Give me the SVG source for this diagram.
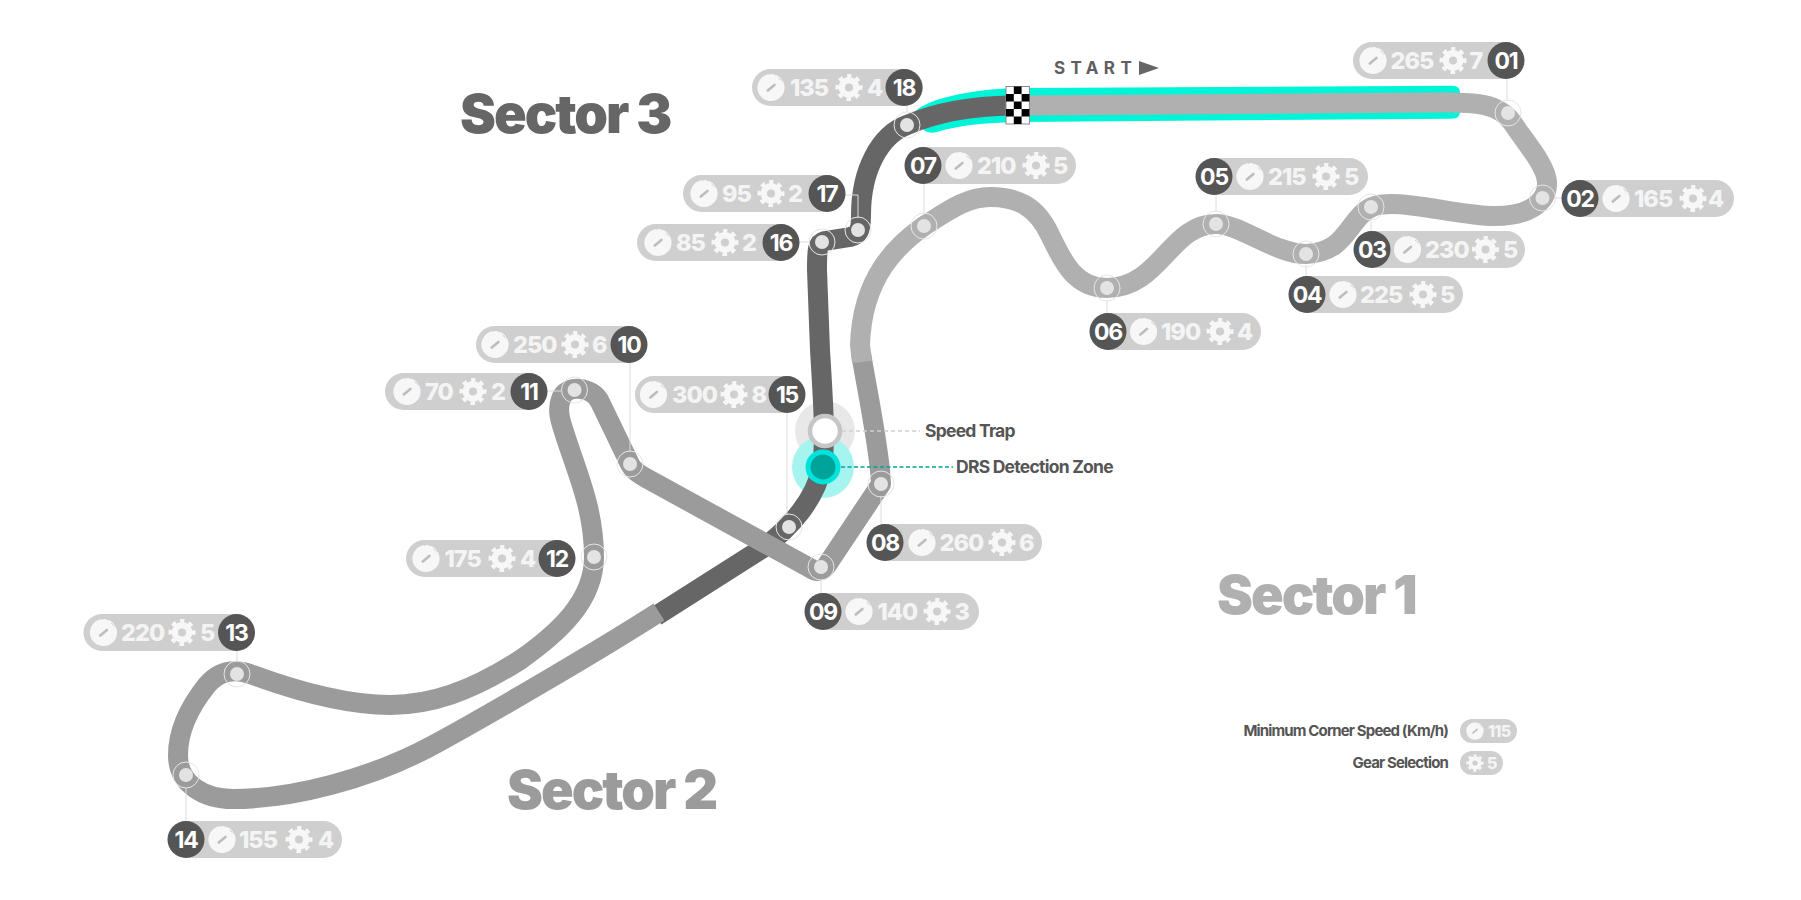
<svg xmlns="http://www.w3.org/2000/svg" width="1801" height="900" viewBox="0 0 1801 900">
<style>
text{font-family:Inter,"Liberation Sans",sans-serif}
.pill{fill:#cfcfcf}
.badge{fill:#555}
.bt{font-size:23px;font-weight:700;fill:#fff;text-anchor:middle;letter-spacing:-1.2px}
.v{font-size:23.5px;font-weight:800;fill:#f4f4f4;letter-spacing:-1px}
.ring{fill:none;stroke:#e6e6e6;stroke-width:1}
.dot{fill:#e3e3e3}
.lead{fill:none;stroke:#dcdcdc;stroke-width:1}
.trk{fill:none;stroke-width:20;stroke-linejoin:round}
.sec{font-size:54px;font-weight:900;letter-spacing:-2px}
.lbl{font-size:17.5px;font-weight:700;fill:#555;letter-spacing:-.75px}
.leg{font-size:15px;font-weight:700;fill:#555;letter-spacing:-.85px;text-anchor:end}
.lv{font-size:16px;font-weight:800;fill:#f4f4f4;letter-spacing:-.7px}
</style>
<defs>
<g id="speed">
<circle r="13.6" fill="#f7f7f7"/>
<path d="M7.5 -9.5L10 -7.4M10.4 -6.4L16 -9.5" stroke="#cfcfcf" stroke-width="1" fill="none"/>
<path d="M3 -15L4 -12M-1.5 -15L-1 -12.5" stroke="#cfcfcf" stroke-width=".8" fill="none"/>
<path d="M-3.2 3L3.4 -2.6" stroke="#bdbdbd" stroke-width="2.6" stroke-linecap="round"/>
</g>
<g id="gear">
<circle r="10.4" fill="#f7f7f7"/>
<circle r="11.5" fill="none" stroke="#f7f7f7" stroke-width="4" stroke-dasharray="4.6 4.43" stroke-dashoffset="2.3" transform="rotate(-90)"/>
<circle r="4" fill="#cfcfcf"/>
</g>
</defs>
<rect width="1801" height="900" fill="#fff"/>

<g id="speed-trap-halo"><circle cx="825" cy="431" r="30" fill="#e8e8e8"/></g>
<g id="drs-halo"><circle cx="823" cy="467" r="31" fill="#a6f4ef"/></g>

<g id="track">
<path fill="#00f5d8" d="M1452 85.7Q1460 86 1460 92L1460 112Q1460 118.7 1452 118.7L1020 122C985 123 960 125 937 132Q930 134 925 131L915 119Q912 113 918 109C935 97 975 89 1020 88Z"/>
<path class="trk" stroke="#666" d="M656 616L763 548C790 528 815 500 822 467C826 440 823 400 820 350L817 270C817 250 817 243 825 241L850 237C858 235 861 232 861 215C861 170 880 135 907 125C935 113 970 106 1012 105.5"/>
<path class="trk" stroke="#9b9b9b" d="M861 353C866 385 875 425 880 470L881 484L827 565Q820 575 810 568L646 478C632 470 631 467 627 458L600 402C592 386 566 384 561 399C556 412 562 425 566 438C578 475 594 510 594 557C594 600 560 632 520 660C470 692 430 705 390 705C340 705 285 687 250 674C235 669 220 670 207 685C195 700 178 725 178 755C178 785 205 799 233 799C290 799 370 780 437 743C490 714 600 650 659 612"/>
<path class="trk" stroke="#b0b0b0" d="M1018 105.5L1440 102.5C1475 102 1498 103 1512 122C1525 142 1546 165 1547 182C1548 205 1525 216 1495 216C1465 216 1420 204 1392 204C1376 204 1368 207 1360 216C1345 232 1340 252 1306 254C1275 254 1240 224 1216 224C1170 224 1160 288 1107 288C1075 288 1063 262 1050 235C1036 205 1016 197 990 197C965 197 945 213 924 226C900 243 862 275 860 345L862 362"/>
</g>

<g id="flag">
<rect x="1006" y="86.5" width="23.4" height="37.5" fill="#fff" stroke="#8a8a8a" stroke-width="1"/>
<path d="M1013.8 86.5h7.8v7.5h-7.8zM1006 94h7.8v7.5h-7.8zM1021.6 94h7.8v7.5h-7.8zM1013.8 101.5h7.8v7.5h-7.8zM1006 109h7.8v7.5h-7.8zM1021.6 109h7.8v7.5h-7.8zM1013.8 116.5h7.8v7.5h-7.8z" fill="#000"/>
</g>

<g id="connectors">
<path class="lead" d="M1507 79V100M1216 195V211M1306 265V276M1371 219V231M1107 300V313M924 183V213M881 496V524M821 580V593M630 362V452M547 391H561M787 412V515M237 651V661M186 788V821M810 242H799M845 195H858V218M907 106V112M1555 198H1562"/>
<path d="M842 431H920" fill="none" stroke="#cfcfcf" stroke-width="1.3" stroke-dasharray="4 3"/>
<path d="M841 467H953" fill="none" stroke="#00a39a" stroke-width="1.3" stroke-dasharray="4 2.5"/>
</g>

<g id="speed-trap"><circle cx="825" cy="431" r="15" fill="#fff" stroke="#c6c6c6" stroke-width="4.5"/></g>
<g id="drs"><circle cx="823" cy="467" r="15" fill="#00a39a" stroke="#00e3dc" stroke-width="5"/></g>
<text x="925" y="437" class="lbl">Speed Trap</text>
<text x="956" y="473" class="lbl">DRS Detection Zone</text>

<g id="start">
<text x="1054" y="74" font-size="17" font-weight="700" fill="#5f5f5f" letter-spacing="5.4">START</text>
<path d="M1139 61L1159 68L1139 75Z" fill="#666"/>
</g>

<text x="460" y="133" class="sec" fill="#666">Sector 3</text>
<text x="507" y="809" class="sec" fill="#9b9b9b">Sector 2</text>
<text x="1217" y="614" class="sec" fill="#b0b0b0">Sector 1</text>

<g id="corner-01"><rect class="pill" x="1353" y="42" width="171" height="37" rx="18.5"/><circle class="badge" cx="1506" cy="60.5" r="18.5"/><text class="bt" x="1506" y="68.5">01</text><use href="#speed" x="1373" y="60.5"/><text class="v" x="1390.5" y="68.5">265</text><use href="#gear" x="1453" y="60.5"/><text class="v" x="1469.5" y="68.5">7</text><circle class="ring" cx="1508" cy="113" r="13"/><circle class="dot" cx="1508" cy="113" r="7"/></g>
<g id="corner-02"><rect class="pill" x="1562" y="180" width="172" height="37" rx="18.5"/><circle class="badge" cx="1580" cy="198.5" r="18.5"/><text class="bt" x="1580" y="206.5">02</text><use href="#speed" x="1616" y="198.5"/><text class="v" x="1634" y="206.5">165</text><use href="#gear" x="1693" y="198.5"/><text class="v" x="1708" y="206.5">4</text><circle class="ring" cx="1542.5" cy="198" r="13"/><circle class="dot" cx="1542.5" cy="198" r="7"/></g>
<g id="corner-03"><rect class="pill" x="1354" y="231" width="171" height="37" rx="18.5"/><circle class="badge" cx="1372" cy="249.5" r="18.5"/><text class="bt" x="1372" y="257.5">03</text><use href="#speed" x="1407.5" y="249.5"/><text class="v" x="1425" y="257.5">230</text><use href="#gear" x="1485.5" y="249.5"/><text class="v" x="1503" y="257.5">5</text><circle class="ring" cx="1371" cy="207" r="13"/><circle class="dot" cx="1371" cy="207" r="7"/></g>
<g id="corner-04"><rect class="pill" x="1289" y="276" width="174" height="37" rx="18.5"/><circle class="badge" cx="1307" cy="294.5" r="18.5"/><text class="bt" x="1307" y="302.5">04</text><use href="#speed" x="1343" y="294.5"/><text class="v" x="1360" y="302.5">225</text><use href="#gear" x="1423" y="294.5"/><text class="v" x="1440" y="302.5">5</text><circle class="ring" cx="1306" cy="254" r="13"/><circle class="dot" cx="1306" cy="254" r="7"/></g>
<g id="corner-05"><rect class="pill" x="1196" y="158" width="172" height="37" rx="18.5"/><circle class="badge" cx="1214" cy="176.5" r="18.5"/><text class="bt" x="1214" y="184.5">05</text><use href="#speed" x="1250" y="176.5"/><text class="v" x="1268" y="184.5">215</text><use href="#gear" x="1326" y="176.5"/><text class="v" x="1344" y="184.5">5</text><circle class="ring" cx="1216" cy="224" r="13"/><circle class="dot" cx="1216" cy="224" r="7"/></g>
<g id="corner-06"><rect class="pill" x="1090" y="313" width="171" height="37" rx="18.5"/><circle class="badge" cx="1108" cy="331.5" r="18.5"/><text class="bt" x="1108" y="339.5">06</text><use href="#speed" x="1143.5" y="331.5"/><text class="v" x="1161" y="339.5">190</text><use href="#gear" x="1220" y="331.5"/><text class="v" x="1237" y="339.5">4</text><circle class="ring" cx="1107" cy="288" r="13"/><circle class="dot" cx="1107" cy="288" r="7"/></g>
<g id="corner-07"><rect class="pill" x="905" y="147" width="171" height="37" rx="18.5"/><circle class="badge" cx="923" cy="165.5" r="18.5"/><text class="bt" x="923" y="173.5">07</text><use href="#speed" x="959" y="165.5"/><text class="v" x="977" y="173.5">210</text><use href="#gear" x="1036" y="165.5"/><text class="v" x="1053" y="173.5">5</text><circle class="ring" cx="924" cy="226" r="13"/><circle class="dot" cx="924" cy="226" r="7"/></g>
<g id="corner-08"><rect class="pill" x="867" y="524" width="175" height="37" rx="18.5"/><circle class="badge" cx="885" cy="542.5" r="18.5"/><text class="bt" x="885" y="550.5">08</text><use href="#speed" x="922" y="542.5"/><text class="v" x="939.5" y="550.5">260</text><use href="#gear" x="1002" y="542.5"/><text class="v" x="1019" y="550.5">6</text><circle class="ring" cx="881" cy="484" r="13"/><circle class="dot" cx="881" cy="484" r="7"/></g>
<g id="corner-09"><rect class="pill" x="805" y="593" width="174" height="37" rx="18.5"/><circle class="badge" cx="823" cy="611.5" r="18.5"/><text class="bt" x="823" y="619.5">09</text><use href="#speed" x="859" y="611.5"/><text class="v" x="877.5" y="619.5">140</text><use href="#gear" x="937" y="611.5"/><text class="v" x="954.5" y="619.5">3</text><circle class="ring" cx="821" cy="567" r="13"/><circle class="dot" cx="821" cy="567" r="7"/></g>
<g id="corner-10"><rect class="pill" x="476" y="326" width="171" height="37" rx="18.5"/><circle class="badge" cx="629" cy="344.5" r="18.5"/><text class="bt" x="629" y="352.5">10</text><use href="#speed" x="495" y="344.5"/><text class="v" x="513" y="352.5">250</text><use href="#gear" x="575" y="344.5"/><text class="v" x="592" y="352.5">6</text><circle class="ring" cx="630" cy="464" r="13"/><circle class="dot" cx="630" cy="464" r="7"/></g>
<g id="corner-11"><rect class="pill" x="385" y="373" width="162" height="37" rx="18.5"/><circle class="badge" cx="529" cy="391.5" r="18.5"/><text class="bt" x="529" y="399.5">11</text><use href="#speed" x="407" y="391.5"/><text class="v" x="425" y="399.5">70</text><use href="#gear" x="473" y="391.5"/><text class="v" x="491" y="399.5">2</text><circle class="ring" cx="574.5" cy="390" r="13"/><circle class="dot" cx="574.5" cy="390" r="7"/></g>
<g id="corner-12"><rect class="pill" x="406" y="540" width="169" height="37" rx="18.5"/><circle class="badge" cx="557" cy="558.5" r="18.5"/><text class="bt" x="557" y="566.5">12</text><use href="#speed" x="426" y="558.5"/><text class="v" x="444.5" y="566.5">175</text><use href="#gear" x="502" y="558.5"/><text class="v" x="520" y="566.5">4</text><circle class="ring" cx="594" cy="557" r="13"/><circle class="dot" cx="594" cy="557" r="7"/></g>
<g id="corner-13"><rect class="pill" x="83.500" y="614" width="171" height="37" rx="18.5"/><circle class="badge" cx="236.500" cy="632.5" r="18.5"/><text class="bt" x="236.500" y="640.5">13</text><use href="#speed" x="103.500" y="632.5"/><text class="v" x="121" y="640.5">220</text><use href="#gear" x="182" y="632.5"/><text class="v" x="200" y="640.5">5</text><circle class="ring" cx="237" cy="674" r="13"/><circle class="dot" cx="237" cy="674" r="7"/></g>
<g id="corner-14"><rect class="pill" x="168" y="821" width="174" height="37" rx="18.5"/><circle class="badge" cx="186" cy="839.5" r="18.5"/><text class="bt" x="186" y="847.5">14</text><use href="#speed" x="222" y="839.5"/><text class="v" x="239" y="847.5">155</text><use href="#gear" x="299" y="839.5"/><text class="v" x="318" y="847.5">4</text><circle class="ring" cx="186" cy="775" r="13"/><circle class="dot" cx="186" cy="775" r="7"/></g>
<g id="corner-15"><rect class="pill" x="635" y="376" width="170" height="37" rx="18.5"/><circle class="badge" cx="787" cy="394.5" r="18.5"/><text class="bt" x="787" y="402.5">15</text><use href="#speed" x="653.500" y="394.5"/><text class="v" x="672" y="402.5">300</text><use href="#gear" x="734" y="394.5"/><text class="v" x="751.5" y="402.5">8</text><circle class="ring" cx="789" cy="527" r="13"/><circle class="dot" cx="789" cy="527" r="7"/></g>
<g id="corner-16"><rect class="pill" x="637" y="224" width="162" height="37" rx="18.5"/><circle class="badge" cx="781" cy="242.5" r="18.5"/><text class="bt" x="781" y="250.5">16</text><use href="#speed" x="658" y="242.5"/><text class="v" x="676" y="250.5">85</text><use href="#gear" x="725" y="242.5"/><text class="v" x="742" y="250.5">2</text><circle class="ring" cx="822" cy="242" r="13"/><circle class="dot" cx="822" cy="242" r="7"/></g>
<g id="corner-17"><rect class="pill" x="683" y="175" width="162" height="37" rx="18.5"/><circle class="badge" cx="827" cy="193.5" r="18.5"/><text class="bt" x="827" y="201.5">17</text><use href="#speed" x="704" y="193.5"/><text class="v" x="722" y="201.5">95</text><use href="#gear" x="771" y="193.5"/><text class="v" x="788" y="201.5">2</text><circle class="ring" cx="858" cy="230" r="13"/><circle class="dot" cx="858" cy="230" r="7"/></g>
<g id="corner-18"><rect class="pill" x="752" y="69" width="171" height="37" rx="18.5"/><circle class="badge" cx="904" cy="87.5" r="18.5"/><text class="bt" x="904" y="95.5">18</text><use href="#speed" x="771" y="87.5"/><text class="v" x="790" y="95.5">135</text><use href="#gear" x="849" y="87.5"/><text class="v" x="867" y="95.5">4</text><circle class="ring" cx="907" cy="125" r="13"/><circle class="dot" cx="907" cy="125" r="7"/></g>

<g id="legend">
<text class="leg" x="1448" y="736">Minimum Corner Speed (Km/h)</text>
<rect class="pill" x="1460" y="719" width="57" height="24" rx="12"/>
<use href="#speed" transform="translate(1475 731) scale(.64)"/>
<text class="lv" x="1488" y="737">115</text>
<text class="leg" x="1448" y="768">Gear Selection</text>
<rect class="pill" x="1460" y="751" width="43" height="24" rx="12"/>
<use href="#gear" transform="translate(1475 763) scale(.64)"/>
<text class="lv" x="1487" y="769">5</text>
</g>
</svg>
